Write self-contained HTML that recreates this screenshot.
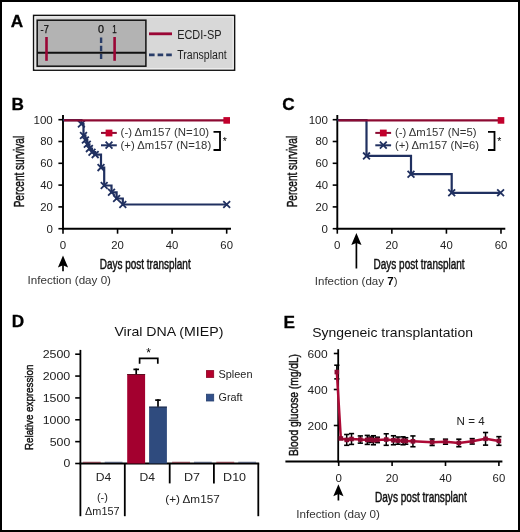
<!DOCTYPE html>
<html><head><meta charset="utf-8"><style>
html,body{margin:0;padding:0;background:#fff;overflow:hidden;width:520px;height:532px;}
svg{display:block;font-family:"Liberation Sans", sans-serif;will-change:transform;}
</style></head><body>
<svg width="520" height="532" viewBox="0 0 520 532">
<rect x="0" y="0" width="520" height="532" fill="#fff"/>
<text x="10.80" y="26.50" font-size="17.2" font-weight="bold" fill="#000" stroke="#000" stroke-width="0.3">A</text>
<rect x="33.60" y="15.40" width="201.00" height="54.80" fill="#d8d8d8" stroke="#111" stroke-width="1.5"/>
<rect x="35.00" y="16.80" width="198.20" height="52.00" fill="none" stroke="#f4f4f4" stroke-width="1.1"/>
<rect x="37.20" y="20.20" width="108.70" height="46.00" fill="#b3b3b3" stroke="#111" stroke-width="1.5"/>
<line x1="37.20" y1="52.80" x2="145.90" y2="52.80" stroke="#111" stroke-width="2.0"/>
<line x1="46.50" y1="37.00" x2="46.50" y2="60.80" stroke="#9a0535" stroke-width="2.6"/>
<line x1="101.10" y1="37.40" x2="101.10" y2="58.90" stroke="#283c68" stroke-width="2.4" stroke-dasharray="5.5,2.8"/>
<line x1="114.60" y1="37.00" x2="114.60" y2="60.80" stroke="#9a0535" stroke-width="2.6"/>
<text x="40.60" y="33.30" font-size="10.6" fill="#111" textLength="8.20" lengthAdjust="spacingAndGlyphs" stroke="#111" stroke-width="0.25">-7</text>
<text x="98.00" y="33.30" font-size="10.6" fill="#111" textLength="6.00" lengthAdjust="spacingAndGlyphs" stroke="#111" stroke-width="0.25">0</text>
<text x="112.30" y="33.30" font-size="10.6" fill="#111" textLength="4.50" lengthAdjust="spacingAndGlyphs" stroke="#111" stroke-width="0.25">1</text>
<line x1="149.00" y1="33.80" x2="172.00" y2="33.80" stroke="#9a0535" stroke-width="2.8"/>
<text x="177.20" y="38.70" font-size="12.0" fill="#222" textLength="44.30" lengthAdjust="spacingAndGlyphs">ECDI-SP</text>
<line x1="149.00" y1="54.90" x2="172.00" y2="54.90" stroke="#283c68" stroke-width="2.6" stroke-dasharray="5.6,3"/>
<text x="177.30" y="58.70" font-size="12.0" fill="#222" textLength="49.40" lengthAdjust="spacingAndGlyphs">Transplant</text>
<text x="11.50" y="110.20" font-size="17.2" font-weight="bold" fill="#000" stroke="#000" stroke-width="0.3">B</text>
<line x1="63.00" y1="115.00" x2="63.00" y2="229.70" stroke="#000" stroke-width="1.9"/>
<line x1="62.00" y1="228.70" x2="231.00" y2="228.70" stroke="#000" stroke-width="1.9"/>
<line x1="58.40" y1="228.70" x2="63.00" y2="228.70" stroke="#000" stroke-width="1.6"/>
<text x="52.80" y="232.50" font-size="11.0" text-anchor="end" fill="#222" textLength="6.40" lengthAdjust="spacingAndGlyphs">0</text>
<line x1="58.40" y1="206.90" x2="63.00" y2="206.90" stroke="#000" stroke-width="1.6"/>
<text x="52.80" y="210.70" font-size="11.0" text-anchor="end" fill="#222" textLength="12.60" lengthAdjust="spacingAndGlyphs">20</text>
<line x1="58.40" y1="185.10" x2="63.00" y2="185.10" stroke="#000" stroke-width="1.6"/>
<text x="52.80" y="188.90" font-size="11.0" text-anchor="end" fill="#222" textLength="12.60" lengthAdjust="spacingAndGlyphs">40</text>
<line x1="58.40" y1="163.30" x2="63.00" y2="163.30" stroke="#000" stroke-width="1.6"/>
<text x="52.80" y="167.10" font-size="11.0" text-anchor="end" fill="#222" textLength="12.60" lengthAdjust="spacingAndGlyphs">60</text>
<line x1="58.40" y1="141.50" x2="63.00" y2="141.50" stroke="#000" stroke-width="1.6"/>
<text x="52.80" y="145.30" font-size="11.0" text-anchor="end" fill="#222" textLength="12.60" lengthAdjust="spacingAndGlyphs">80</text>
<line x1="58.40" y1="119.70" x2="63.00" y2="119.70" stroke="#000" stroke-width="1.6"/>
<text x="52.80" y="123.50" font-size="11.0" text-anchor="end" fill="#222" textLength="19.30" lengthAdjust="spacingAndGlyphs">100</text>
<line x1="63.00" y1="228.70" x2="63.00" y2="233.70" stroke="#000" stroke-width="1.6"/>
<text x="63.00" y="249.00" font-size="11.0" text-anchor="middle" fill="#222" textLength="6.40" lengthAdjust="spacingAndGlyphs">0</text>
<line x1="117.56" y1="228.70" x2="117.56" y2="233.70" stroke="#000" stroke-width="1.6"/>
<text x="117.56" y="249.00" font-size="11.0" text-anchor="middle" fill="#222" textLength="12.60" lengthAdjust="spacingAndGlyphs">20</text>
<line x1="172.12" y1="228.70" x2="172.12" y2="233.70" stroke="#000" stroke-width="1.6"/>
<text x="172.12" y="249.00" font-size="11.0" text-anchor="middle" fill="#222" textLength="12.60" lengthAdjust="spacingAndGlyphs">40</text>
<line x1="226.68" y1="228.70" x2="226.68" y2="233.70" stroke="#000" stroke-width="1.6"/>
<text x="226.68" y="249.00" font-size="11.0" text-anchor="middle" fill="#222" textLength="12.60" lengthAdjust="spacingAndGlyphs">60</text>
<path d="M63.00,120.2H81.40V124.00H83.50V135.50H85.40V140.00H87.30V144.30H89.40V148.60H92.00V152.20H95.20V154.60H101.00V167.60H104.20V185.50H111.50V192.30H116.60V198.50H122.80V204.50H226.70V204.50" fill="none" stroke="#203060" stroke-width="2.2"/>
<path d="M78.00,120.60L84.80,127.40M78.00,127.40L84.80,120.60" stroke="#203060" stroke-width="1.8" fill="none"/>
<path d="M80.10,132.10L86.90,138.90M80.10,138.90L86.90,132.10" stroke="#203060" stroke-width="1.8" fill="none"/>
<path d="M82.00,136.60L88.80,143.40M82.00,143.40L88.80,136.60" stroke="#203060" stroke-width="1.8" fill="none"/>
<path d="M83.90,140.90L90.70,147.70M83.90,147.70L90.70,140.90" stroke="#203060" stroke-width="1.8" fill="none"/>
<path d="M86.00,145.20L92.80,152.00M86.00,152.00L92.80,145.20" stroke="#203060" stroke-width="1.8" fill="none"/>
<path d="M88.60,148.80L95.40,155.60M88.60,155.60L95.40,148.80" stroke="#203060" stroke-width="1.8" fill="none"/>
<path d="M91.80,151.20L98.60,158.00M91.80,158.00L98.60,151.20" stroke="#203060" stroke-width="1.8" fill="none"/>
<path d="M97.60,164.20L104.40,171.00M97.60,171.00L104.40,164.20" stroke="#203060" stroke-width="1.8" fill="none"/>
<path d="M100.80,182.10L107.60,188.90M100.80,188.90L107.60,182.10" stroke="#203060" stroke-width="1.8" fill="none"/>
<path d="M108.10,188.90L114.90,195.70M108.10,195.70L114.90,188.90" stroke="#203060" stroke-width="1.8" fill="none"/>
<path d="M113.20,195.10L120.00,201.90M113.20,201.90L120.00,195.10" stroke="#203060" stroke-width="1.8" fill="none"/>
<path d="M119.40,201.10L126.20,207.90M119.40,207.90L126.20,201.10" stroke="#203060" stroke-width="1.8" fill="none"/>
<path d="M223.30,201.10L230.10,207.90M223.30,207.90L230.10,201.10" stroke="#203060" stroke-width="1.8" fill="none"/>
<line x1="64.00" y1="120.40" x2="226.70" y2="120.40" stroke="#8c0a32" stroke-width="2.3"/>
<rect x="223.40" y="117.10" width="6.60" height="6.60" fill="#c2002c"/>
<line x1="101.00" y1="132.90" x2="116.80" y2="132.90" stroke="#8c0a32" stroke-width="2.0"/>
<rect x="105.60" y="129.60" width="6.80" height="6.80" fill="#c2002c"/>
<line x1="101.00" y1="145.30" x2="116.80" y2="145.30" stroke="#203060" stroke-width="2.0"/>
<path d="M105.60,141.7L112.40,148.7M105.60,148.7L112.40,141.7" stroke="#203060" stroke-width="1.8" fill="none"/>
<text x="120.60" y="135.70" font-size="10.9" fill="#333" textLength="88.60" lengthAdjust="spacingAndGlyphs">(-) Δm157 (N=10)</text>
<text x="120.60" y="148.80" font-size="10.9" fill="#333" textLength="90.60" lengthAdjust="spacingAndGlyphs">(+) Δm157 (N=18)</text>
<path d="M213.50,131.8H220.00V150.0H213.50" fill="none" stroke="#000" stroke-width="1.8"/>
<text x="224.90" y="145.30" font-size="10.5" text-anchor="middle" fill="#000">*</text>
<text x="23.60" y="171.60" font-size="13.8" text-anchor="middle" fill="#111" textLength="71.50" lengthAdjust="spacingAndGlyphs" transform="rotate(-90 23.60 171.60)" stroke="#111" stroke-width="0.45">Percent survival</text>
<line x1="63.00" y1="261.40" x2="63.00" y2="271.30" stroke="#000" stroke-width="1.7"/>
<path d="M63.00,255.40L68.10,267.40L63.00,265.20L57.90,267.40Z" fill="#000"/>
<text x="99.70" y="269.40" font-size="13.8" fill="#111" textLength="91.00" lengthAdjust="spacingAndGlyphs" stroke="#111" stroke-width="0.45">Days post transplant</text>
<text x="27.50" y="284.30" font-size="10.8" fill="#333" textLength="83.50" lengthAdjust="spacingAndGlyphs">Infection (day 0)</text>
<text x="282.30" y="110.20" font-size="17.2" font-weight="bold" fill="#000" stroke="#000" stroke-width="0.3">C</text>
<line x1="337.30" y1="115.00" x2="337.30" y2="229.70" stroke="#000" stroke-width="1.9"/>
<line x1="336.30" y1="228.70" x2="505.30" y2="228.70" stroke="#000" stroke-width="1.9"/>
<line x1="332.70" y1="228.70" x2="337.30" y2="228.70" stroke="#000" stroke-width="1.6"/>
<text x="328.00" y="232.50" font-size="11.0" text-anchor="end" fill="#222" textLength="6.40" lengthAdjust="spacingAndGlyphs">0</text>
<line x1="332.70" y1="206.90" x2="337.30" y2="206.90" stroke="#000" stroke-width="1.6"/>
<text x="328.00" y="210.70" font-size="11.0" text-anchor="end" fill="#222" textLength="12.60" lengthAdjust="spacingAndGlyphs">20</text>
<line x1="332.70" y1="185.10" x2="337.30" y2="185.10" stroke="#000" stroke-width="1.6"/>
<text x="328.00" y="188.90" font-size="11.0" text-anchor="end" fill="#222" textLength="12.60" lengthAdjust="spacingAndGlyphs">40</text>
<line x1="332.70" y1="163.30" x2="337.30" y2="163.30" stroke="#000" stroke-width="1.6"/>
<text x="328.00" y="167.10" font-size="11.0" text-anchor="end" fill="#222" textLength="12.60" lengthAdjust="spacingAndGlyphs">60</text>
<line x1="332.70" y1="141.50" x2="337.30" y2="141.50" stroke="#000" stroke-width="1.6"/>
<text x="328.00" y="145.30" font-size="11.0" text-anchor="end" fill="#222" textLength="12.60" lengthAdjust="spacingAndGlyphs">80</text>
<line x1="332.70" y1="119.70" x2="337.30" y2="119.70" stroke="#000" stroke-width="1.6"/>
<text x="328.00" y="123.50" font-size="11.0" text-anchor="end" fill="#222" textLength="19.30" lengthAdjust="spacingAndGlyphs">100</text>
<line x1="337.30" y1="228.70" x2="337.30" y2="233.70" stroke="#000" stroke-width="1.6"/>
<text x="337.30" y="249.00" font-size="11.0" text-anchor="middle" fill="#222" textLength="6.40" lengthAdjust="spacingAndGlyphs">0</text>
<line x1="391.86" y1="228.70" x2="391.86" y2="233.70" stroke="#000" stroke-width="1.6"/>
<text x="391.86" y="249.00" font-size="11.0" text-anchor="middle" fill="#222" textLength="12.60" lengthAdjust="spacingAndGlyphs">20</text>
<line x1="446.42" y1="228.70" x2="446.42" y2="233.70" stroke="#000" stroke-width="1.6"/>
<text x="446.42" y="249.00" font-size="11.0" text-anchor="middle" fill="#222" textLength="12.60" lengthAdjust="spacingAndGlyphs">40</text>
<line x1="500.98" y1="228.70" x2="500.98" y2="233.70" stroke="#000" stroke-width="1.6"/>
<text x="500.98" y="249.00" font-size="11.0" text-anchor="middle" fill="#222" textLength="12.60" lengthAdjust="spacingAndGlyphs">60</text>
<path d="M337.30,120.2H366.50V155.90H411.00V174.20H451.70V192.80H500.60V192.80" fill="none" stroke="#203060" stroke-width="2.2"/>
<path d="M363.10,152.50L369.90,159.30M363.10,159.30L369.90,152.50" stroke="#203060" stroke-width="1.8" fill="none"/>
<path d="M407.60,170.80L414.40,177.60M407.60,177.60L414.40,170.80" stroke="#203060" stroke-width="1.8" fill="none"/>
<path d="M448.30,189.40L455.10,196.20M448.30,196.20L455.10,189.40" stroke="#203060" stroke-width="1.8" fill="none"/>
<path d="M497.20,189.40L504.00,196.20M497.20,196.20L504.00,189.40" stroke="#203060" stroke-width="1.8" fill="none"/>
<line x1="338.30" y1="120.40" x2="501.00" y2="120.40" stroke="#8c0a32" stroke-width="2.3"/>
<rect x="497.70" y="117.10" width="6.60" height="6.60" fill="#c2002c"/>
<line x1="375.30" y1="132.90" x2="391.10" y2="132.90" stroke="#8c0a32" stroke-width="2.0"/>
<rect x="379.90" y="129.60" width="6.80" height="6.80" fill="#c2002c"/>
<line x1="375.30" y1="145.30" x2="391.10" y2="145.30" stroke="#203060" stroke-width="2.0"/>
<path d="M379.90,141.7L386.70,148.7M379.90,148.7L386.70,141.7" stroke="#203060" stroke-width="1.8" fill="none"/>
<text x="394.90" y="135.70" font-size="10.9" fill="#333" textLength="81.60" lengthAdjust="spacingAndGlyphs">(-) Δm157 (N=5)</text>
<text x="394.90" y="148.80" font-size="10.9" fill="#333" textLength="84.10" lengthAdjust="spacingAndGlyphs">(+) Δm157 (N=6)</text>
<path d="M488.00,131.8H494.50V150.0H488.00" fill="none" stroke="#000" stroke-width="1.8"/>
<text x="499.40" y="145.30" font-size="10.5" text-anchor="middle" fill="#000">*</text>
<text x="297.30" y="171.60" font-size="13.8" text-anchor="middle" fill="#111" textLength="71.50" lengthAdjust="spacingAndGlyphs" transform="rotate(-90 297.30 171.60)" stroke="#111" stroke-width="0.45">Percent survival</text>
<line x1="356.40" y1="239.10" x2="356.40" y2="268.50" stroke="#000" stroke-width="1.7"/>
<path d="M356.40,233.10L361.50,245.10L356.40,242.90L351.30,245.10Z" fill="#000"/>
<text x="373.60" y="269.40" font-size="13.8" fill="#111" textLength="91.00" lengthAdjust="spacingAndGlyphs" stroke="#111" stroke-width="0.45">Days post transplant</text>
<text x="314.8" y="284.5" font-size="10.8" fill="#333" textLength="82.7" lengthAdjust="spacingAndGlyphs">Infection (day <tspan font-weight="bold" fill="#000">7</tspan>)</text>
<text x="11.80" y="327.20" font-size="17.2" font-weight="bold" fill="#000" stroke="#000" stroke-width="0.3">D</text>
<text x="114.40" y="336.40" font-size="13.5" fill="#111" textLength="109.00" lengthAdjust="spacingAndGlyphs">Viral DNA (MIEP)</text>
<line x1="80.40" y1="349.90" x2="80.40" y2="516.20" stroke="#000" stroke-width="1.8"/>
<line x1="79.50" y1="463.50" x2="259.20" y2="463.50" stroke="#000" stroke-width="1.8"/>
<line x1="75.20" y1="463.50" x2="80.40" y2="463.50" stroke="#000" stroke-width="1.6"/>
<text x="70.30" y="467.40" font-size="11.0" text-anchor="end" fill="#222" textLength="6.80" lengthAdjust="spacingAndGlyphs">0</text>
<line x1="75.20" y1="441.64" x2="80.40" y2="441.64" stroke="#000" stroke-width="1.6"/>
<text x="70.30" y="445.54" font-size="11.0" text-anchor="end" fill="#222" textLength="20.60" lengthAdjust="spacingAndGlyphs">500</text>
<line x1="75.20" y1="419.78" x2="80.40" y2="419.78" stroke="#000" stroke-width="1.6"/>
<text x="70.30" y="423.68" font-size="11.0" text-anchor="end" fill="#222" textLength="27.60" lengthAdjust="spacingAndGlyphs">1000</text>
<line x1="75.20" y1="397.92" x2="80.40" y2="397.92" stroke="#000" stroke-width="1.6"/>
<text x="70.30" y="401.82" font-size="11.0" text-anchor="end" fill="#222" textLength="27.60" lengthAdjust="spacingAndGlyphs">1500</text>
<line x1="75.20" y1="376.06" x2="80.40" y2="376.06" stroke="#000" stroke-width="1.6"/>
<text x="70.30" y="379.96" font-size="11.0" text-anchor="end" fill="#222" textLength="27.60" lengthAdjust="spacingAndGlyphs">2000</text>
<line x1="75.20" y1="354.20" x2="80.40" y2="354.20" stroke="#000" stroke-width="1.6"/>
<text x="70.30" y="358.10" font-size="11.0" text-anchor="end" fill="#222" textLength="27.60" lengthAdjust="spacingAndGlyphs">2500</text>
<text x="33.00" y="407.30" font-size="11.8" text-anchor="middle" fill="#111" textLength="85.50" lengthAdjust="spacingAndGlyphs" transform="rotate(-90 33.00 407.30)" stroke="#111" stroke-width="0.45">Relative expression</text>
<rect x="127.20" y="374.10" width="17.90" height="89.40" fill="#a3002f"/>
<rect x="149.10" y="406.70" width="17.80" height="56.80" fill="#2f4b7e"/>
<line x1="127.20" y1="374.50" x2="145.10" y2="374.50" stroke="#50101c" stroke-width="0.9"/>
<line x1="149.10" y1="407.10" x2="166.90" y2="407.10" stroke="#1a2540" stroke-width="0.9"/>
<line x1="136.20" y1="368.60" x2="136.20" y2="374.10" stroke="#000" stroke-width="1.7"/>
<line x1="133.40" y1="369.40" x2="139.00" y2="369.40" stroke="#000" stroke-width="1.7"/>
<line x1="158.00" y1="399.30" x2="158.00" y2="406.70" stroke="#000" stroke-width="1.7"/>
<line x1="155.20" y1="400.10" x2="160.80" y2="400.10" stroke="#000" stroke-width="1.7"/>
<rect x="82.80" y="461.80" width="17.90" height="0.90" fill="#7a2535"/>
<rect x="104.70" y="461.80" width="17.80" height="0.90" fill="#3a4565"/>
<rect x="172.10" y="461.80" width="17.90" height="0.90" fill="#7a2535"/>
<rect x="194.00" y="461.80" width="17.80" height="0.90" fill="#3a4565"/>
<rect x="216.30" y="461.80" width="17.90" height="0.90" fill="#7a2535"/>
<rect x="238.20" y="461.80" width="17.80" height="0.90" fill="#3a4565"/>
<path d="M139.6,363.8V358.3H157.8V363.8" fill="none" stroke="#000" stroke-width="1.7"/>
<text x="148.50" y="356.90" font-size="12" text-anchor="middle" fill="#000">*</text>
<line x1="124.80" y1="463.50" x2="124.80" y2="516.20" stroke="#000" stroke-width="1.8"/>
<line x1="258.30" y1="463.50" x2="258.30" y2="516.20" stroke="#000" stroke-width="1.8"/>
<line x1="169.70" y1="463.50" x2="169.70" y2="483.40" stroke="#000" stroke-width="1.8"/>
<line x1="213.90" y1="463.50" x2="213.90" y2="483.40" stroke="#000" stroke-width="1.8"/>
<text x="103.50" y="481.00" font-size="11.0" text-anchor="middle" fill="#222" textLength="15.50" lengthAdjust="spacingAndGlyphs">D4</text>
<text x="147.30" y="481.00" font-size="11.0" text-anchor="middle" fill="#222" textLength="15.50" lengthAdjust="spacingAndGlyphs">D4</text>
<text x="192.00" y="481.00" font-size="11.0" text-anchor="middle" fill="#222" textLength="16.00" lengthAdjust="spacingAndGlyphs">D7</text>
<text x="234.60" y="481.00" font-size="11.0" text-anchor="middle" fill="#222" textLength="23.00" lengthAdjust="spacingAndGlyphs">D10</text>
<text x="102.40" y="501.40" font-size="11.0" text-anchor="middle" fill="#222">(-)</text>
<text x="102.30" y="515.00" font-size="11.0" text-anchor="middle" fill="#222" textLength="34.50" lengthAdjust="spacingAndGlyphs">Δm157</text>
<text x="192.50" y="503.00" font-size="11.0" text-anchor="middle" fill="#222" textLength="54.50" lengthAdjust="spacingAndGlyphs">(+) Δm157</text>
<rect x="206.40" y="370.60" width="7.30" height="6.80" fill="#b4002c" stroke="#8a0022" stroke-width="0.8"/>
<text x="218.50" y="377.60" font-size="11.0" fill="#222" textLength="34.00" lengthAdjust="spacingAndGlyphs">Spleen</text>
<rect x="206.40" y="394.20" width="7.30" height="6.80" fill="#32508a" stroke="#26406e" stroke-width="0.8"/>
<text x="218.50" y="401.30" font-size="11.0" fill="#222" textLength="24.00" lengthAdjust="spacingAndGlyphs">Graft</text>
<text x="283.50" y="327.70" font-size="17.2" font-weight="bold" fill="#000" stroke="#000" stroke-width="0.3">E</text>
<text x="312.20" y="336.50" font-size="13.5" fill="#111" textLength="160.80" lengthAdjust="spacingAndGlyphs">Syngeneic transplantation</text>
<line x1="338.20" y1="349.20" x2="338.20" y2="462.50" stroke="#000" stroke-width="1.8"/>
<line x1="285.40" y1="461.50" x2="502.40" y2="461.50" stroke="#000" stroke-width="1.8"/>
<line x1="333.80" y1="425.50" x2="338.20" y2="425.50" stroke="#000" stroke-width="1.6"/>
<text x="327.60" y="429.50" font-size="11.3" text-anchor="end" fill="#222" textLength="20.00" lengthAdjust="spacingAndGlyphs">200</text>
<line x1="333.80" y1="389.50" x2="338.20" y2="389.50" stroke="#000" stroke-width="1.6"/>
<text x="327.60" y="393.50" font-size="11.3" text-anchor="end" fill="#222" textLength="20.00" lengthAdjust="spacingAndGlyphs">400</text>
<line x1="333.80" y1="353.50" x2="338.20" y2="353.50" stroke="#000" stroke-width="1.6"/>
<text x="327.60" y="357.50" font-size="11.3" text-anchor="end" fill="#222" textLength="20.00" lengthAdjust="spacingAndGlyphs">600</text>
<line x1="338.70" y1="461.50" x2="338.70" y2="466.00" stroke="#000" stroke-width="1.6"/>
<text x="338.70" y="481.50" font-size="11.0" text-anchor="middle" fill="#222" textLength="6.40" lengthAdjust="spacingAndGlyphs">0</text>
<line x1="392.10" y1="461.50" x2="392.10" y2="466.00" stroke="#000" stroke-width="1.6"/>
<text x="392.10" y="481.50" font-size="11.0" text-anchor="middle" fill="#222" textLength="12.60" lengthAdjust="spacingAndGlyphs">20</text>
<line x1="445.50" y1="461.50" x2="445.50" y2="466.00" stroke="#000" stroke-width="1.6"/>
<text x="445.50" y="481.50" font-size="11.0" text-anchor="middle" fill="#222" textLength="12.60" lengthAdjust="spacingAndGlyphs">40</text>
<line x1="498.90" y1="461.50" x2="498.90" y2="466.00" stroke="#000" stroke-width="1.6"/>
<text x="498.90" y="481.50" font-size="11.0" text-anchor="middle" fill="#222" textLength="12.60" lengthAdjust="spacingAndGlyphs">60</text>
<text x="298.40" y="405.00" font-size="12.6" text-anchor="middle" fill="#111" textLength="102.00" lengthAdjust="spacingAndGlyphs" transform="rotate(-90 298.40 405.00)" stroke="#111" stroke-width="0.45">Blood glucose (mg/dL)</text>
<line x1="336.83" y1="365.20" x2="336.83" y2="378.88" stroke="#000" stroke-width="1.5"/>
<line x1="334.23" y1="365.20" x2="339.43" y2="365.20" stroke="#000" stroke-width="1.6"/>
<line x1="334.23" y1="378.88" x2="339.43" y2="378.88" stroke="#000" stroke-width="1.6"/>
<line x1="346.71" y1="434.50" x2="346.71" y2="445.30" stroke="#000" stroke-width="1.5"/>
<line x1="344.11" y1="434.50" x2="349.31" y2="434.50" stroke="#000" stroke-width="1.6"/>
<line x1="344.11" y1="445.30" x2="349.31" y2="445.30" stroke="#000" stroke-width="1.6"/>
<line x1="351.52" y1="433.60" x2="351.52" y2="444.40" stroke="#000" stroke-width="1.5"/>
<line x1="348.92" y1="433.60" x2="354.12" y2="433.60" stroke="#000" stroke-width="1.6"/>
<line x1="348.92" y1="444.40" x2="354.12" y2="444.40" stroke="#000" stroke-width="1.6"/>
<line x1="360.33" y1="435.94" x2="360.33" y2="443.14" stroke="#000" stroke-width="1.5"/>
<line x1="357.73" y1="435.94" x2="362.93" y2="435.94" stroke="#000" stroke-width="1.6"/>
<line x1="357.73" y1="443.14" x2="362.93" y2="443.14" stroke="#000" stroke-width="1.6"/>
<line x1="367.27" y1="435.40" x2="367.27" y2="444.40" stroke="#000" stroke-width="1.5"/>
<line x1="364.67" y1="435.40" x2="369.87" y2="435.40" stroke="#000" stroke-width="1.6"/>
<line x1="364.67" y1="444.40" x2="369.87" y2="444.40" stroke="#000" stroke-width="1.6"/>
<line x1="370.74" y1="437.02" x2="370.74" y2="442.42" stroke="#000" stroke-width="1.5"/>
<line x1="368.14" y1="437.02" x2="373.34" y2="437.02" stroke="#000" stroke-width="1.6"/>
<line x1="368.14" y1="442.42" x2="373.34" y2="442.42" stroke="#000" stroke-width="1.6"/>
<line x1="373.41" y1="435.76" x2="373.41" y2="444.76" stroke="#000" stroke-width="1.5"/>
<line x1="370.81" y1="435.76" x2="376.01" y2="435.76" stroke="#000" stroke-width="1.6"/>
<line x1="370.81" y1="444.76" x2="376.01" y2="444.76" stroke="#000" stroke-width="1.6"/>
<line x1="377.41" y1="437.20" x2="377.41" y2="442.60" stroke="#000" stroke-width="1.5"/>
<line x1="374.81" y1="437.20" x2="380.01" y2="437.20" stroke="#000" stroke-width="1.6"/>
<line x1="374.81" y1="442.60" x2="380.01" y2="442.60" stroke="#000" stroke-width="1.6"/>
<line x1="386.23" y1="433.78" x2="386.23" y2="445.30" stroke="#000" stroke-width="1.5"/>
<line x1="383.63" y1="433.78" x2="388.83" y2="433.78" stroke="#000" stroke-width="1.6"/>
<line x1="383.63" y1="445.30" x2="388.83" y2="445.30" stroke="#000" stroke-width="1.6"/>
<line x1="393.44" y1="435.76" x2="393.44" y2="444.76" stroke="#000" stroke-width="1.5"/>
<line x1="390.83" y1="435.76" x2="396.04" y2="435.76" stroke="#000" stroke-width="1.6"/>
<line x1="390.83" y1="444.76" x2="396.04" y2="444.76" stroke="#000" stroke-width="1.6"/>
<line x1="397.97" y1="437.02" x2="397.97" y2="444.22" stroke="#000" stroke-width="1.5"/>
<line x1="395.37" y1="437.02" x2="400.57" y2="437.02" stroke="#000" stroke-width="1.6"/>
<line x1="395.37" y1="444.22" x2="400.57" y2="444.22" stroke="#000" stroke-width="1.6"/>
<line x1="403.05" y1="436.84" x2="403.05" y2="444.76" stroke="#000" stroke-width="1.5"/>
<line x1="400.45" y1="436.84" x2="405.65" y2="436.84" stroke="#000" stroke-width="1.6"/>
<line x1="400.45" y1="444.76" x2="405.65" y2="444.76" stroke="#000" stroke-width="1.6"/>
<line x1="405.72" y1="437.74" x2="405.72" y2="444.22" stroke="#000" stroke-width="1.5"/>
<line x1="403.12" y1="437.74" x2="408.32" y2="437.74" stroke="#000" stroke-width="1.6"/>
<line x1="403.12" y1="444.22" x2="408.32" y2="444.22" stroke="#000" stroke-width="1.6"/>
<line x1="412.93" y1="435.94" x2="412.93" y2="446.74" stroke="#000" stroke-width="1.5"/>
<line x1="410.33" y1="435.94" x2="415.53" y2="435.94" stroke="#000" stroke-width="1.6"/>
<line x1="410.33" y1="446.74" x2="415.53" y2="446.74" stroke="#000" stroke-width="1.6"/>
<line x1="432.15" y1="439.00" x2="432.15" y2="445.48" stroke="#000" stroke-width="1.5"/>
<line x1="429.55" y1="439.00" x2="434.75" y2="439.00" stroke="#000" stroke-width="1.6"/>
<line x1="429.55" y1="445.48" x2="434.75" y2="445.48" stroke="#000" stroke-width="1.6"/>
<line x1="445.50" y1="439.18" x2="445.50" y2="444.22" stroke="#000" stroke-width="1.5"/>
<line x1="442.90" y1="439.18" x2="448.10" y2="439.18" stroke="#000" stroke-width="1.6"/>
<line x1="442.90" y1="444.22" x2="448.10" y2="444.22" stroke="#000" stroke-width="1.6"/>
<line x1="458.85" y1="439.18" x2="458.85" y2="446.74" stroke="#000" stroke-width="1.5"/>
<line x1="456.25" y1="439.18" x2="461.45" y2="439.18" stroke="#000" stroke-width="1.6"/>
<line x1="456.25" y1="446.74" x2="461.45" y2="446.74" stroke="#000" stroke-width="1.6"/>
<line x1="472.20" y1="438.64" x2="472.20" y2="444.04" stroke="#000" stroke-width="1.5"/>
<line x1="469.60" y1="438.64" x2="474.80" y2="438.64" stroke="#000" stroke-width="1.6"/>
<line x1="469.60" y1="444.04" x2="474.80" y2="444.04" stroke="#000" stroke-width="1.6"/>
<line x1="485.55" y1="432.52" x2="485.55" y2="445.12" stroke="#000" stroke-width="1.5"/>
<line x1="482.95" y1="432.52" x2="488.15" y2="432.52" stroke="#000" stroke-width="1.6"/>
<line x1="482.95" y1="445.12" x2="488.15" y2="445.12" stroke="#000" stroke-width="1.6"/>
<line x1="498.90" y1="436.66" x2="498.90" y2="445.30" stroke="#000" stroke-width="1.5"/>
<line x1="496.30" y1="436.66" x2="501.50" y2="436.66" stroke="#000" stroke-width="1.6"/>
<line x1="496.30" y1="445.30" x2="501.50" y2="445.30" stroke="#000" stroke-width="1.6"/>
<polyline points="336.83,372.04 340.84,438.46 346.71,439.90 351.52,439.00 360.33,439.54 367.27,439.90 370.74,439.72 373.41,440.26 377.41,439.90 386.23,439.54 393.44,440.26 397.97,440.62 403.05,440.80 405.72,440.98 412.93,441.34 432.15,442.24 445.50,441.70 458.85,442.96 472.20,441.34 485.55,438.82 498.90,440.98" fill="none" stroke="#ad0a36" stroke-width="2.5" stroke-linejoin="round"/>
<rect x="334.53" y="369.74" width="4.60" height="4.60" fill="#8c0a32"/>
<rect x="338.54" y="436.16" width="4.60" height="4.60" fill="#8c0a32"/>
<rect x="344.41" y="437.60" width="4.60" height="4.60" fill="#8c0a32"/>
<rect x="349.22" y="436.70" width="4.60" height="4.60" fill="#8c0a32"/>
<rect x="358.03" y="437.24" width="4.60" height="4.60" fill="#8c0a32"/>
<rect x="364.97" y="437.60" width="4.60" height="4.60" fill="#8c0a32"/>
<rect x="368.44" y="437.42" width="4.60" height="4.60" fill="#8c0a32"/>
<rect x="371.11" y="437.96" width="4.60" height="4.60" fill="#8c0a32"/>
<rect x="375.11" y="437.60" width="4.60" height="4.60" fill="#8c0a32"/>
<rect x="383.93" y="437.24" width="4.60" height="4.60" fill="#8c0a32"/>
<rect x="391.13" y="437.96" width="4.60" height="4.60" fill="#8c0a32"/>
<rect x="395.67" y="438.32" width="4.60" height="4.60" fill="#8c0a32"/>
<rect x="400.75" y="438.50" width="4.60" height="4.60" fill="#8c0a32"/>
<rect x="403.42" y="438.68" width="4.60" height="4.60" fill="#8c0a32"/>
<rect x="410.63" y="439.04" width="4.60" height="4.60" fill="#8c0a32"/>
<rect x="429.85" y="439.94" width="4.60" height="4.60" fill="#8c0a32"/>
<rect x="443.20" y="439.40" width="4.60" height="4.60" fill="#8c0a32"/>
<rect x="456.55" y="440.66" width="4.60" height="4.60" fill="#8c0a32"/>
<rect x="469.90" y="439.04" width="4.60" height="4.60" fill="#8c0a32"/>
<rect x="483.25" y="436.52" width="4.60" height="4.60" fill="#8c0a32"/>
<rect x="496.60" y="438.68" width="4.60" height="4.60" fill="#8c0a32"/>
<text x="456.60" y="424.90" font-size="11.8" fill="#222" textLength="28.00" lengthAdjust="spacingAndGlyphs">N = 4</text>
<line x1="338.40" y1="490.30" x2="338.40" y2="500.50" stroke="#000" stroke-width="1.7"/>
<path d="M338.40,484.30L343.50,496.30L338.40,494.10L333.30,496.30Z" fill="#000"/>
<text x="375.00" y="502.00" font-size="13.8" fill="#111" textLength="91.70" lengthAdjust="spacingAndGlyphs" stroke="#111" stroke-width="0.45">Days post transplant</text>
<text x="296.30" y="517.60" font-size="10.8" fill="#333" textLength="83.70" lengthAdjust="spacingAndGlyphs">Infection (day 0)</text>
<rect x="1" y="1" width="518" height="530" fill="none" stroke="#000" stroke-width="2"/>
</svg>
</body></html>
